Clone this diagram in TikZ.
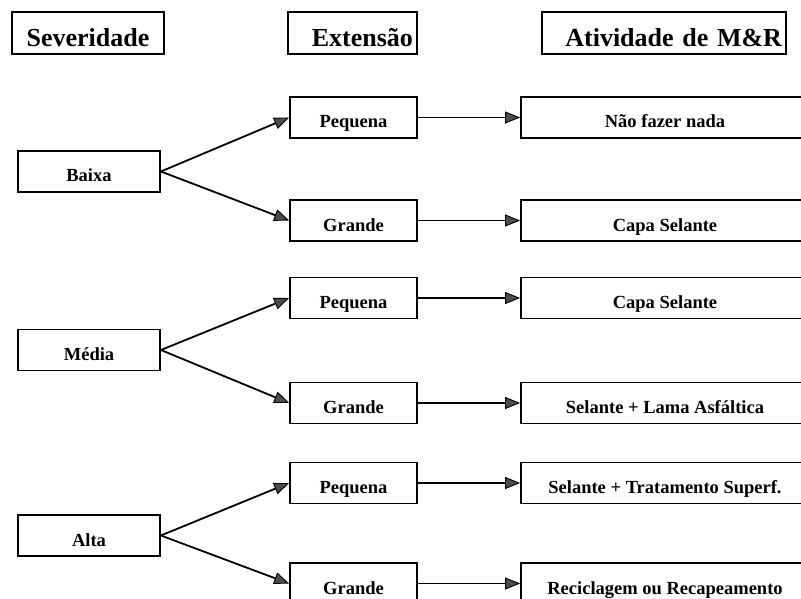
\documentclass[tikz,border=0pt]{standalone}
\usepackage{fontspec}
\setmainfont{Liberation Serif}
\usetikzlibrary{arrows.meta}
\begin{document}
\begin{tikzpicture}[x=1pt,y=-1pt,
  frame/.style={draw=black, line width=1.8pt, fill=white},
  head/.style={frame, inner xsep=4pt, inner ysep=3pt, minimum height=42pt,
    text height=28pt, text depth=0pt, font=\fontsize{26}{30}\selectfont\bfseries},
  cell/.style={frame, inner sep=3pt, minimum height=41pt,
    text height=21pt, text depth=0pt, font=\fontsize{18.5}{22}\selectfont\bfseries},
  sevbox/.style={cell, minimum width=142pt},
  extbox/.style={cell, minimum width=127pt},
  actbox/.style={cell, minimum width=288pt},
  link/.style={draw=black, line width=1.8pt,
    -{Triangle[length=15pt,width=12pt,fill=black!70,line width=0.9pt]}}]
\useasboundingbox (0,0) rectangle (801,599);
\clip (0,0) rectangle (801,599);

% column headings
\node[head, minimum width=152pt] (hsev) at (88,33) {Severidade};
\node[head, text width=121pt, align=right] (hext) at (352.5,33) {Extensão};
\node[head, text width=236pt, align=right] (hact) at (664,33) {Atividade de M\&R};

% severity levels
\node[sevbox] (baixa) at (89,171.5) {Baixa};
\node[sevbox] (media) at (89,350) {Média};
\node[sevbox] (alta)  at (89,535.5) {Alta};

% extent
\node[extbox] (e1) at (353.5,117.5) {Pequena};
\node[extbox] (e2) at (353.5,220.5) {Grande};
\node[extbox] (e3) at (353.5,298) {Pequena};
\node[extbox] (e4) at (353.5,403) {Grande};
\node[extbox] (e5) at (353.5,483) {Pequena};
\node[extbox] (e6) at (353.5,583.5) {Grande};

% maintenance and rehabilitation activity
\node[actbox] (a1) at (665,117.5) {Não fazer nada};
\node[actbox] (a2) at (665,220.5) {Capa Selante};
\node[actbox] (a3) at (665,298) {Capa Selante};
\node[actbox] (a4) at (665,403) {Selante + Lama Asfáltica};
\node[actbox] (a5) at (665,483) {Selante + Tratamento Superf.};
\node[actbox] (a6) at (665,583.5) {Reciclagem ou Recapeamento};

% connectors
\draw[link] (baixa.east) -- (e1.west);
\draw[link] (baixa.east) -- (e2.west);
\draw[link] (media.east) -- (e3.west);
\draw[link] (media.east) -- (e4.west);
\draw[link] (alta.east) -- (e5.west);
\draw[link] (alta.east) -- (e6.west);
\foreach \i in {1,...,6} {
  \draw[link] (e\i.east) -- (a\i.west);
}
\end{tikzpicture}
\end{document}
